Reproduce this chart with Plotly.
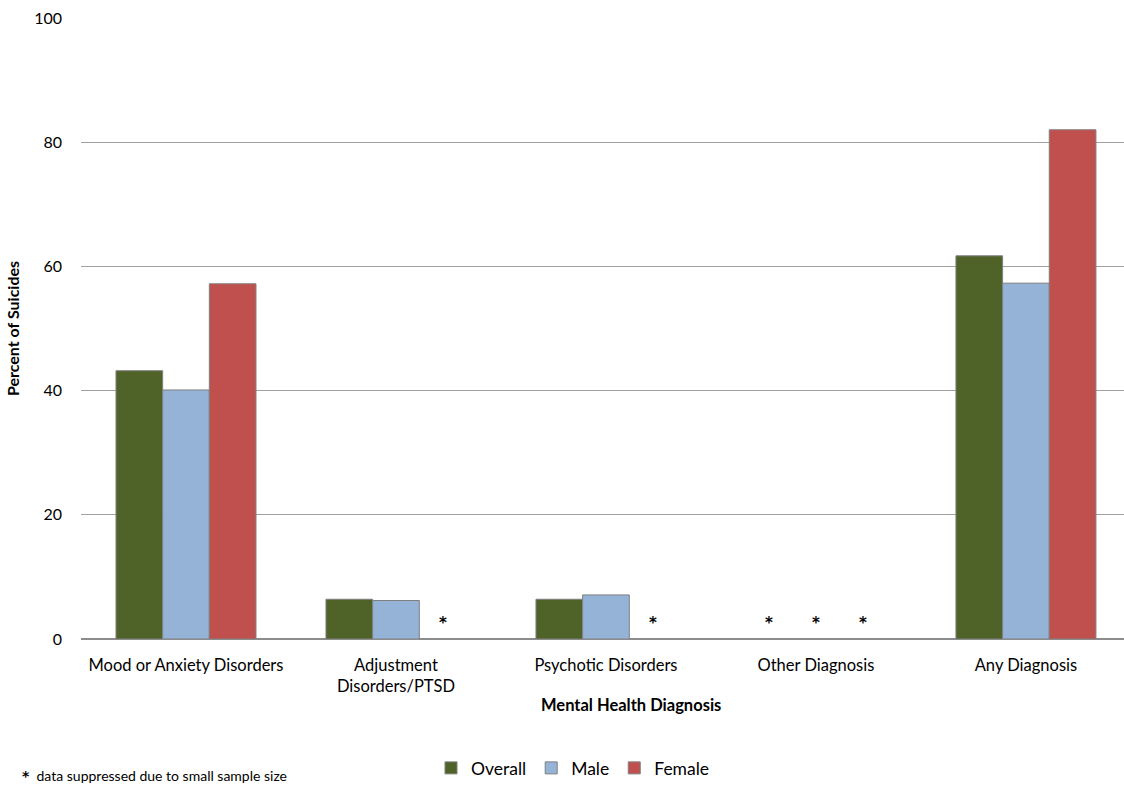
import plotly.graph_objects as go

categories = ["Mood or Anxiety Disorders", "Adjustment<br>Disorders/PTSD",
              "Psychotic Disorders", "Other Diagnosis", "Any Diagnosis"]
overall = [43.2, 6.4, 6.4, None, 61.7]
male = [40.1, 6.2, 7.1, None, 57.3]
female = [57.2, None, None, None, 82.0]
series_names = ["Overall", "Male", "Female"]
series_colors = ["#4F6228", "#95B3D7", "#C0504D"]
y_ticks = [0, 20, 40, 60, 80, 100]

FONT = "Lato"
STAR_FONT = "DejaVu Sans"
fig = go.Figure()
for name, vals, col in zip(series_names, [overall, male, female], series_colors):
    fig.add_trace(go.Bar(
        x=categories, y=vals, name=name,
        marker=dict(color=col, line=dict(color="#7F7F7F", width=1)),
    ))

# asterisks mark suppressed values (missing bars)
offsets = [-0.2222, 0.0, 0.2222]
for s, vals in enumerate([overall, male, female]):
    for i, v in enumerate(vals):
        if v is None:
            fig.add_annotation(x=i + offsets[s], y=2.5, xref="x", yref="y",
                               text="<b>*</b>", showarrow=False,
                               font=dict(family=STAR_FONT, size=15, color="#000000"))

fig.add_annotation(x=(631 - 81) / 1043, y=(640 - 706) / 622, xref="paper", yref="paper",
                   text="<b>Mental Health Diagnosis</b>", showarrow=False,
                   xanchor="center", yanchor="middle",
                   font=dict(family=FONT, size=16.5, color="#000000"))
fig.add_annotation(x=(20 - 81) / 1043, y=(640 - 777) / 622, xref="paper", yref="paper",
                   text="<span style='font-family:DejaVu Sans'><b>*</b></span>  data suppressed due to small sample size",
                   showarrow=False, xanchor="left", yanchor="middle",
                   font=dict(family=FONT, size=14, color="#000000"))

fig.update_layout(
    width=1124, height=786,
    margin=dict(l=81, r=0, t=18, b=146),
    paper_bgcolor="white", plot_bgcolor="white",
    barmode="group", bargap=0.3333, bargroupgap=0,
    font=dict(family=FONT, size=16.5, color="#000000"),
    showlegend=True,
    legend=dict(orientation="h", x=(573 - 81) / 1043, y=(640 - 769) / 622,
                xanchor="center", yanchor="middle",
                font=dict(family=FONT, size=17.5, color="#000000"),
                itemwidth=30, tracegroupgap=0),
    xaxis=dict(range=[-0.5, 4.467], showgrid=False, showline=False,
               ticks="", tickfont=dict(family=FONT, size=16.5, color="#000000"),
               ticklabelstandoff=14, zeroline=False),
    yaxis=dict(range=[0, 100], tickvals=y_ticks, showgrid=True,
               gridcolor="#A0A0A0", gridwidth=1, zeroline=True,
               zerolinecolor="#8C8C8C", zerolinewidth=1.5,
               showline=False, ticks="", ticklabelstandoff=18,
               tickfont=dict(family=FONT, size=16, color="#000000"),
               title=dict(text="<b>Percent of Suicides</b>", standoff=10,
                          font=dict(family=FONT, size=16, color="#000000"))),
)

fig.write_html("out.html")
